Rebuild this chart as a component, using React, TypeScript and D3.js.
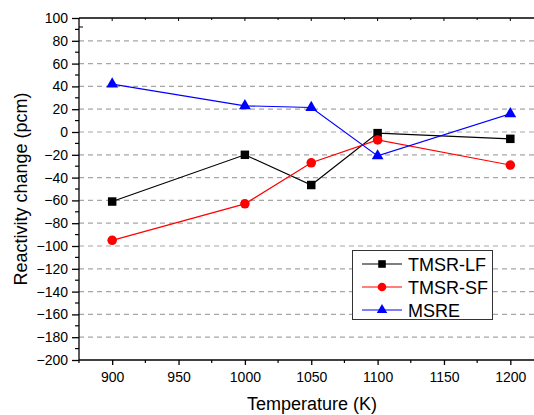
import { useEffect, useRef } from 'react';
import * as d3 from 'd3';

const temps = [900, 1000, 1050, 1100, 1200];
const lfValues = [-61, -20, -46.5, -1, -6];
const sfValues = [-95, -63, -27, -7, -29];
const msreValues = [42, 23, 21.5, -21, 16];
const seriesNames = ['TMSR-LF', 'TMSR-SF', 'MSRE'];
const seriesColors = ['#000000', '#ff0000', '#0000ff'];
const xTicks = [900, 950, 1000, 1050, 1100, 1150, 1200];
const yTicks = d3.range(-200, 101, 20);

export default function App() {
  const ref = useRef<SVGSVGElement>(null);

  useEffect(() => {
    document.body.style.margin = '0';
    const svg = d3.select(ref.current);
    svg.selectAll('*').remove();

    const W = 534, H = 415;
    const m = { top: 18, left: 79, bottom: 360, right: 543.5 };
    const font = 'Liberation Sans, Arial, sans-serif';

    const x = d3.scaleLinear().domain([875, 1225]).range([m.left, m.right]);
    const y = d3.scaleLinear().domain([-200, 100]).range([m.bottom, m.top]);

    svg.attr('width', W).attr('height', H);
    svg.append('rect').attr('width', W).attr('height', H).attr('fill', '#fff');

    // dashed grid
    svg.append('g').selectAll('line')
      .data(yTicks.filter(v => v > -200 && v < 100))
      .enter().append('line')
      .attr('x1', m.left).attr('x2', W)
      .attr('y1', d => y(d)).attr('y2', d => y(d))
      .attr('stroke', '#a6a6a6').attr('stroke-width', 1.2)
      .attr('stroke-dasharray', '5,4');

    // left axis
    const yMinor = d3.range(-190, 100, 20);
    const gy = svg.append('g').attr('transform', `translate(${m.left},0)`);
    gy.call(d3.axisLeft(y).tickValues(yTicks).tickSize(7).tickPadding(4).tickFormat(d3.format('d')))
      .call(s => s.selectAll('text').attr('fill', '#000').style('font-size', '14px').style('font-family', font))
      .call(s => s.selectAll('line,path').attr('stroke', '#000').attr('stroke-width', 1.3));
    gy.select('.domain').attr('d', `M0,${m.top}V${m.bottom}`);
    gy.append('g').selectAll('line').data(yMinor).enter().append('line')
      .attr('x1', -4).attr('x2', 0).attr('y1', d => y(d)).attr('y2', d => y(d))
      .attr('stroke', '#000').attr('stroke-width', 1.2);

    // bottom axis
    const xMinor = d3.range(925, 1226, 50);
    const gx = svg.append('g').attr('transform', `translate(0,${m.bottom})`);
    gx.call(d3.axisBottom(x).tickValues(xTicks).tickSize(5).tickPadding(7).tickFormat(d3.format('d')))
      .call(s => s.selectAll('text').attr('fill', '#000').style('font-size', '14px').style('font-family', font))
      .call(s => s.selectAll('line,path').attr('stroke', '#000').attr('stroke-width', 1.3));
    gx.select('.domain').attr('d', `M${m.left},0H${m.right}`);
    gx.append('g').selectAll('line').data([875, ...xMinor]).enter().append('line')
      .attr('x1', d => x(d)).attr('x2', d => x(d)).attr('y1', 0).attr('y2', 3)
      .attr('stroke', '#000').attr('stroke-width', 1.2);

    // top frame with inward ticks
    svg.append('line').attr('x1', m.left).attr('x2', m.right)
      .attr('y1', m.top).attr('y2', m.top).attr('stroke', '#000').attr('stroke-width', 1.3);
    svg.append('g').selectAll('line').data([...xTicks, ...xMinor]).enter().append('line')
      .attr('x1', d => x(d)).attr('x2', d => x(d))
      .attr('y1', m.top).attr('y2', d => m.top + (xTicks.includes(d) ? 3 : 2))
      .attr('stroke', '#000').attr('stroke-width', 1);
    svg.append('line').attr('x1', m.left).attr('x2', m.left + 4)
      .attr('y1', m.top + 9).attr('y2', m.top + 9).attr('stroke', '#000').attr('stroke-width', 1);

    // axis titles
    svg.append('text').attr('x', 312).attr('y', 410)
      .attr('text-anchor', 'middle').style('font-size', '18px').style('font-family', font)
      .text('Temperature (K)');
    svg.append('text').attr('transform', `translate(27,${(m.top + m.bottom) / 2}) rotate(-90)`)
      .attr('text-anchor', 'middle').style('font-size', '18px').style('font-family', font)
      .text('Reactivity change (pcm)');

    const allSeries = [lfValues, sfValues, msreValues];
    const line = d3.line<number>().x((_, i) => x(temps[i])).y(d => y(d));
    const symbols = [d3.symbolSquare, d3.symbolCircle, d3.symbolTriangle];
    const symSizes = [72, 72, 60];

    allSeries.forEach((vals, k) => {
      svg.append('path').datum(vals)
        .attr('fill', 'none').attr('stroke', seriesColors[k]).attr('stroke-width', 1.2)
        .attr('d', line);
      svg.append('g').selectAll('path').data(vals).enter().append('path')
        .attr('transform', (d, i) => `translate(${x(temps[i])},${y(d)})`)
        .attr('d', d3.symbol(symbols[k], symSizes[k])())
        .attr('fill', seriesColors[k]);
    });

    // legend
    const lg = svg.append('g');
    lg.append('rect').attr('x', 352.5).attr('y', 250.5).attr('width', 140).attr('height', 69)
      .attr('fill', '#fff').attr('stroke', '#333').attr('stroke-width', 1);
    seriesNames.forEach((name, k) => {
      const yy = 264 + k * 23;
      lg.append('line').attr('x1', 362).attr('x2', 402).attr('y1', yy).attr('y2', yy)
        .attr('stroke', seriesColors[k]).attr('stroke-width', 1.2);
      lg.append('path').attr('transform', `translate(382,${yy})`)
        .attr('d', d3.symbol(symbols[k], symSizes[k] * 0.8)())
        .attr('fill', seriesColors[k]);
      lg.append('text').attr('x', 408).attr('y', yy + 6.5)
        .style('font-size', '18px').style('font-family', font).text(name);
    });
  }, []);

  return <svg ref={ref} style={{ display: 'block' }} />;
}
